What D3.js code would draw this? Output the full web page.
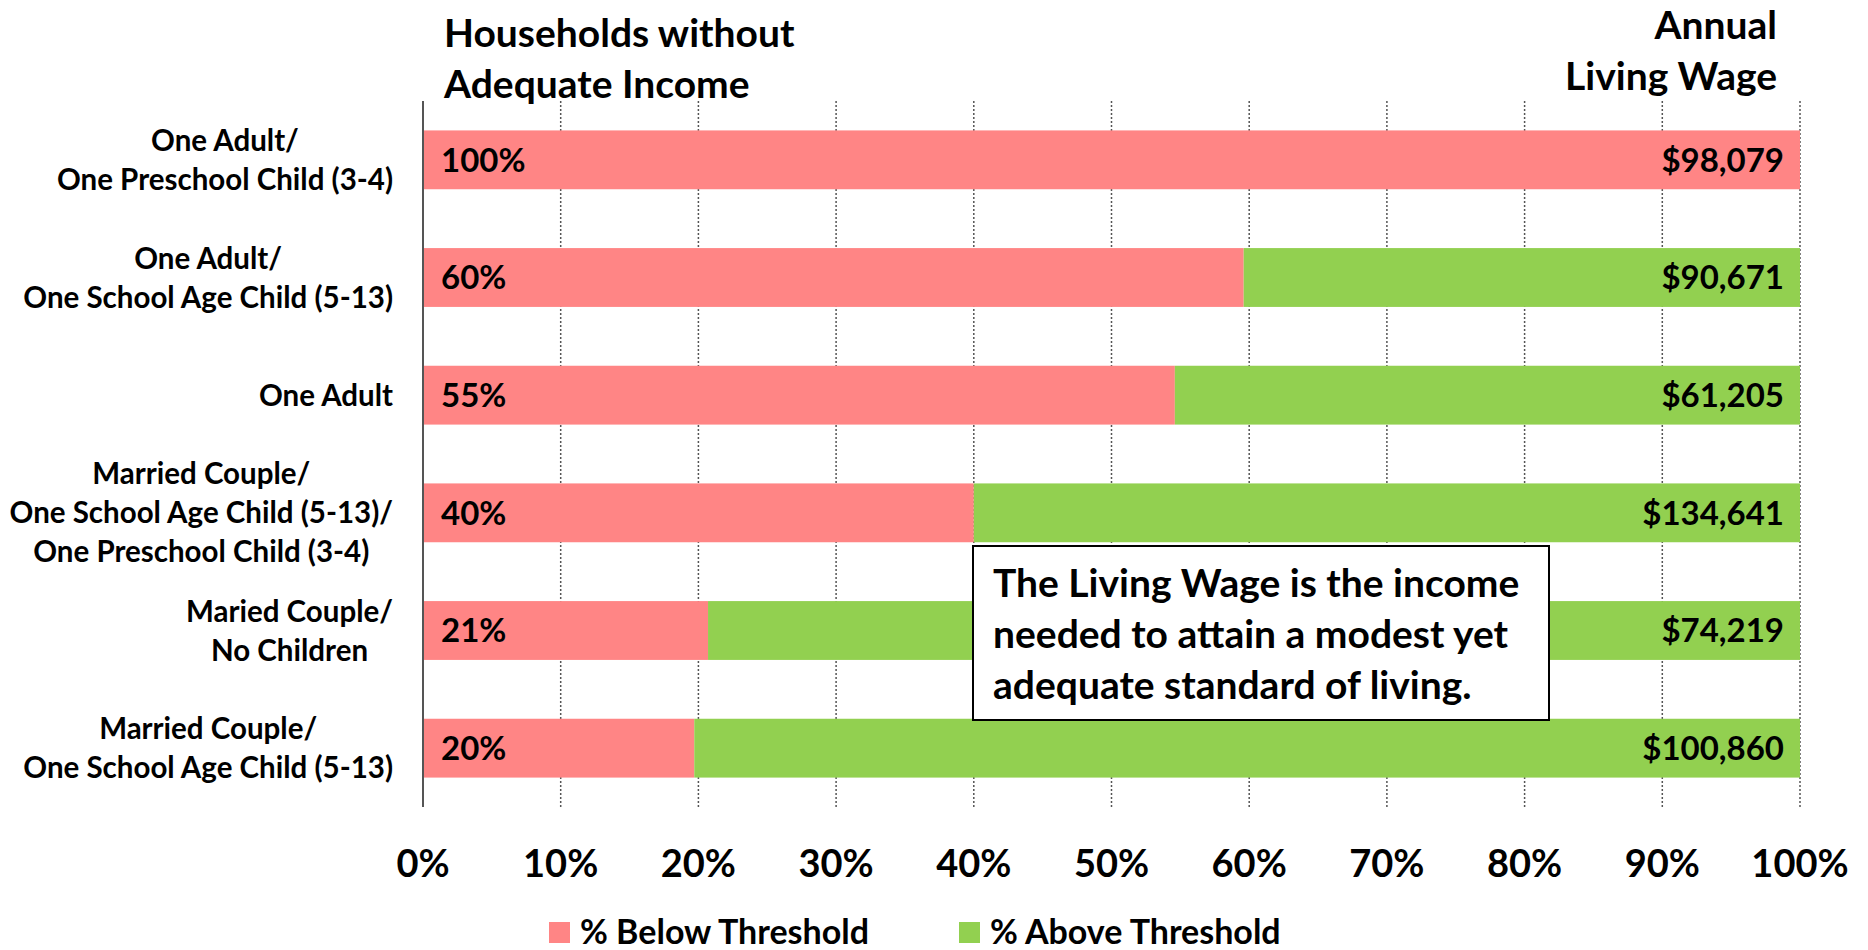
<!DOCTYPE html>
<html lang="en">
<head>
	<meta charset="UTF-8">
	<title>Living Wage</title>
	<script src="https://cdn.jsdelivr.net/npm/d3@7"></script>
	<style>
		body { margin: 0; background: #fff; }
		svg text { font-family: Lato, "Open Sans", sans-serif; font-weight: bold; fill: #000; }
		.grid line { stroke: #555; stroke-width: 1.5px; stroke-dasharray: 2,2; }
	</style>
</head>
<body>
<script>
	// data
	var categories = [
		["One Adult/", "One Preschool Child (3-4)"],
		["One Adult/", "One School Age Child (5-13)"],
		["One Adult"],
		["Married Couple/", "One School Age Child (5-13)/", "One Preschool Child (3-4)"],
		["Maried Couple/", "No Children"],
		["Married Couple/", "One School Age Child (5-13)"]
	];
	var belowPct = [100, 59.6, 54.6, 40.0, 20.7, 19.7];
	var belowLabels = ["100%", "60%", "55%", "40%", "21%", "20%"];
	var wageLabels = ["$98,079", "$90,671", "$61,205", "$134,641", "$74,219", "$100,860"];
	var tickValues = [0, 10, 20, 30, 40, 50, 60, 70, 80, 90, 100];
	var seriesNames = ["% Below Threshold", "% Above Threshold"];
	var colors = ["#ff8585", "#92d050"];
	var noteLines = ["The Living Wage is the income", "needed to attain a modest yet", "adequate standard of living."];

	var W = 1868, H = 950;
	var svg = d3.select("body").append("svg").attr("width", W).attr("height", H);

	var x = d3.scaleLinear().domain([0, 100]).range([423, 1800]);
	var y = d3.scaleBand().domain(d3.range(categories.length)).range([101, 807]).paddingInner(0.5).paddingOuter(0.25);

	// dotted gridlines
	svg.append("g").attr("class", "grid")
		.selectAll("line").data(tickValues.slice(1)).enter().append("line")
		.attr("x1", function (d) { return x(d); })
		.attr("x2", function (d) { return x(d); })
		.attr("y1", 101).attr("y2", 807);

	// bars
	var rows = svg.append("g").selectAll("g").data(belowPct).enter().append("g");
	rows.append("rect")
		.attr("x", x(0))
		.attr("y", function (d, i) { return y(i); })
		.attr("width", function (d) { return x(d) - x(0); })
		.attr("height", y.bandwidth())
		.attr("fill", colors[0]);
	rows.append("rect")
		.attr("x", function (d) { return x(d); })
		.attr("y", function (d, i) { return y(i); })
		.attr("width", function (d) { return x(100) - x(d); })
		.attr("height", y.bandwidth())
		.attr("fill", colors[1]);
	rows.append("text")
		.attr("x", x(0) + 18)
		.attr("y", function (d, i) { return y(i) + y.bandwidth() / 2; })
		.attr("dy", "0.36em")
		.style("font-size", "33px")
		.text(function (d, i) { return belowLabels[i]; });
	rows.append("text")
		.attr("x", x(100) - 16)
		.attr("y", function (d, i) { return y(i) + y.bandwidth() / 2; })
		.attr("dy", "0.36em")
		.attr("text-anchor", "end")
		.style("font-size", "33px")
		.text(function (d, i) { return wageLabels[i]; });

	// y axis line
	svg.append("line")
		.attr("x1", x(0)).attr("x2", x(0))
		.attr("y1", 101).attr("y2", 807)
		.attr("stroke", "#555").attr("stroke-width", 2);

	// category labels: lines centred on each other, block right-aligned
	var lineH = 39, labelRight = 393;
	svg.append("g").selectAll("text").data(categories).enter().append("text")
		.attr("text-anchor", "middle")
		.style("font-size", "29.5px")
		.each(function (d, i) {
			var cy = y(i) + y.bandwidth() / 2;
			var t = d3.select(this);
			var spans = d.map(function (s, k) {
				return t.append("tspan")
					.attr("y", cy + (k - (d.length - 1) / 2) * lineH)
					.attr("dy", "0.36em")
					.text(s);
			});
			var maxW = d3.max(spans, function (sp) { return sp.node().getComputedTextLength(); });
			spans.forEach(function (sp) { sp.attr("x", labelRight - maxW / 2); });
		});

	// x axis tick labels
	svg.append("g").selectAll("text").data(tickValues).enter().append("text")
		.attr("x", function (d) { return x(d); })
		.attr("y", 863)
		.attr("dy", "0.36em")
		.attr("text-anchor", "middle")
		.style("font-size", "38px")
		.text(function (d) { return d + "%"; });

	// header titles
	svg.append("text").style("font-size", "39px")
		.selectAll("tspan").data(["Households without", "Adequate Income"]).enter().append("tspan")
		.attr("x", 444)
		.attr("y", function (d, i) { return 33 + i * 51; })
		.attr("dy", "0.36em")
		.text(function (d) { return d; });
	svg.append("text").style("font-size", "39px").attr("text-anchor", "end")
		.selectAll("tspan").data(["Annual", "Living Wage"]).enter().append("tspan")
		.attr("x", 1777)
		.attr("y", function (d, i) { return 25 + i * 51; })
		.attr("dy", "0.36em")
		.text(function (d) { return d; });

	// note box
	var note = svg.append("g");
	note.append("rect")
		.attr("x", 973).attr("y", 546).attr("width", 576).attr("height", 174)
		.attr("fill", "#fff").attr("stroke", "#000").attr("stroke-width", 2);
	note.append("text").style("font-size", "39px")
		.selectAll("tspan").data(noteLines).enter().append("tspan")
		.attr("x", 993)
		.attr("y", function (d, i) { return 583 + i * 51; })
		.attr("dy", "0.36em")
		.text(function (d) { return d; });

	// legend
	var legendX = [549, 959];
	var lg = svg.append("g").selectAll("g").data(seriesNames).enter().append("g")
		.attr("transform", function (d, i) { return "translate(" + legendX[i] + ",932)"; });
	lg.append("rect").attr("x", 0).attr("y", -10).attr("width", 21).attr("height", 21)
		.attr("fill", function (d, i) { return colors[i]; });
	lg.append("text").attr("x", 31).attr("dy", "0.36em")
		.style("font-size", "34px")
		.text(function (d) { return d; });
</script>
</body>
</html>
